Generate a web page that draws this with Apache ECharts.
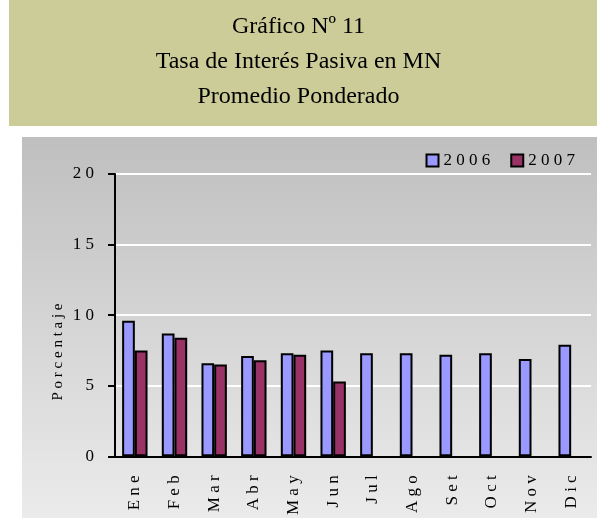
<!DOCTYPE html>
<html>
<head>
<meta charset="utf-8">
<script src="https://cdn.jsdelivr.net/npm/echarts@6/dist/echarts.min.js"></script>
<style>
  html, body { margin:0; padding:0; background:#fff; }
  #chart { width:597px; height:518px; }
</style>
</head>
<body>
<div id="chart"></div>
<script>
// Gráfico Nº 11 — tasa pasiva MN, promedio ponderado

const meses = ['Ene','Feb','Mar','Abr','May','Jun','Jul','Ago','Set','Oct','Nov','Dic'];
const serie2006 = [9.6, 8.7, 6.6, 7.1, 7.3, 7.5, 7.3, 7.3, 7.2, 7.3, 6.9, 7.9];
const serie2007 = [7.5, 8.4, 6.5, 6.8, 7.2, 5.3, null, null, null, null, null, null];
const ticksY = [0, 5, 10, 15, 20];
const titulo = ['Gráfico Nº 11', 'Tasa de Interés Pasiva en MN', 'Promedio Ponderado'];

const FONT = 'Liberation Serif, Times New Roman, serif';
const espaciar = s => String(s).split('').join(' ');

const chart = echarts.init(document.getElementById('chart'));

chart.setOption({
  animation: false,
  backgroundColor: '#fff',
  graphic: [
    { type:'rect', silent:true, z:-10, shape:{ x:9, y:0, width:588, height:126 }, style:{ fill:'#CCCC99' } },
    { type:'rect', silent:true, z:-10, shape:{ x:22, y:137, width:575, height:381 },
      style:{ fill: new echarts.graphic.LinearGradient(0,0,0,1,[
        { offset:0, color:'#BFBFBF' }, { offset:1, color:'#EBEBEB' }
      ]) } },
    ...titulo.map((t, i) => ({
      type:'text', silent:true, left:'center', top: 15 + i*35,
      style:{ text:t, font:'24px ' + FONT, fill:'#000' }
    })),
    { type:'text', silent:true, x:58, y:352, rotation:Math.PI/2,
      style:{ text:espaciar('Porcentaje'), font:'15px ' + FONT, fill:'#000', align:'center', verticalAlign:'middle' } }
  ],
  legend: {
    right: 17, top: 147,
    itemWidth: 12, itemHeight: 12, itemGap: 20,
    icon: 'rect',
    itemStyle: { borderColor:'#000', borderWidth:2 },
    textStyle: { fontFamily: FONT, fontSize:17, color:'#000' },
    formatter: espaciar,
    data: ['2006','2007']
  },
  grid: { left:115, right:6, top:174, bottom:57.5, containLabel:false },
  xAxis: {
    type: 'category',
    data: meses,
    axisLine: { lineStyle:{ color:'#000', width:2 } },
    axisTick: { length:6, lineStyle:{ color:'#000', width:2 } },
    axisLabel: {
      rotate: 90, margin: 19, interval: 0,
      fontFamily: FONT, fontSize: 17, color:'#000',
      formatter: espaciar
    },
    splitLine: { show:false }
  },
  yAxis: {
    type: 'value',
    min: ticksY[0], max: ticksY[ticksY.length-1], interval: 5,
    axisLine: { show:true, lineStyle:{ color:'#000', width:2 } },
    axisTick: { show:true, length:7, lineStyle:{ color:'#000', width:2 } },
    axisLabel: { margin: 21, fontFamily: FONT, fontSize: 17, color:'#000', formatter: espaciar },
    splitLine: { lineStyle:{ color:'#fff', width:2 } }
  },
  series: [
    { name:'2006', type:'bar', data: serie2006, barGap:'0%', barCategoryGap:'36%',
      itemStyle:{ color:'#9999FF', borderColor:'#000', borderWidth:2 } },
    { name:'2007', type:'bar', data: serie2007, barGap:'0%', barCategoryGap:'36%',
      itemStyle:{ color:'#993366', borderColor:'#000', borderWidth:2 } }
  ]
});
</script>
</body>
</html>
